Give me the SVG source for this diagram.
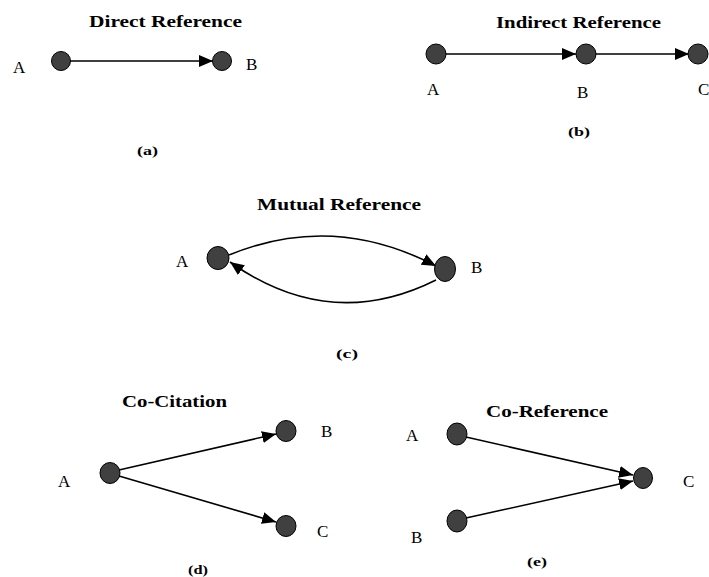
<svg xmlns="http://www.w3.org/2000/svg" width="709" height="577" viewBox="0 0 709 577">
  <style>
    .title { font-family: "Liberation Serif", "Times New Roman", serif; font-weight: bold; font-size: 17px; fill: #000; }
    .lbl { font-family: "Liberation Serif", "Times New Roman", serif; font-size: 17px; fill: #000; }
    .cap { font-family: "Liberation Serif", "Times New Roman", serif; font-size: 13px; font-weight: bold; fill: #000; }
    .node { fill: #404040; stroke: #000; stroke-width: 1; }
    .edge { fill: none; stroke: #000; stroke-width: 1.6; marker-end: url(#arrow); }
  </style>
  <defs>
    <marker id="arrow" markerUnits="userSpaceOnUse" markerWidth="15" markerHeight="13" refX="14" refY="6" orient="auto">
      <path d="M0,0 L14,6 L0,12 z" fill="#000"/>
    </marker>
  </defs>
  <rect width="709" height="577" fill="#fff"/>

  <!-- (a) direct reference -->
  <text class="title" x="89" y="27" textLength="153" lengthAdjust="spacingAndGlyphs">Direct Reference</text>
  <text class="lbl" x="13" y="73">A</text>
  <text class="lbl" x="246" y="70">B</text>
  <text class="cap" x="137" y="155" textLength="21" lengthAdjust="spacingAndGlyphs">(a)</text>

  <!-- (b) indirect reference -->
  <text class="title" x="496" y="28" textLength="165" lengthAdjust="spacingAndGlyphs">Indirect Reference</text>
  <text class="lbl" x="427" y="95">A</text>
  <text class="lbl" x="577" y="98">B</text>
  <text class="lbl" x="698" y="95">C</text>
  <text class="cap" x="568" y="136" textLength="22" lengthAdjust="spacingAndGlyphs">(b)</text>

  <!-- (c) mutual reference -->
  <text class="title" x="257" y="210" textLength="164" lengthAdjust="spacingAndGlyphs">Mutual Reference</text>
  <text class="lbl" x="176" y="267">A</text>
  <text class="lbl" x="471" y="273">B</text>
  <text class="cap" x="336" y="358" textLength="22" lengthAdjust="spacingAndGlyphs">(c)</text>

  <!-- (d) co-citation -->
  <text class="title" x="122" y="407" textLength="105" lengthAdjust="spacingAndGlyphs">Co-Citation</text>
  <text class="lbl" x="58" y="487">A</text>
  <text class="lbl" x="321" y="437">B</text>
  <text class="lbl" x="317" y="537">C</text>
  <text class="cap" x="188" y="574" textLength="20" lengthAdjust="spacingAndGlyphs">(d)</text>

  <!-- (e) co-reference -->
  <text class="title" x="486" y="417" textLength="122" lengthAdjust="spacingAndGlyphs">Co-Reference</text>
  <text class="lbl" x="406" y="441">A</text>
  <text class="lbl" x="411" y="543">B</text>
  <text class="lbl" x="683" y="487">C</text>
  <text class="cap" x="527" y="566" textLength="20" lengthAdjust="spacingAndGlyphs">(e)</text>

  <g id="connectors">
    <line class="edge" x1="70" y1="61" x2="213" y2="61"/>
    <line class="edge" x1="445" y1="54" x2="576" y2="54"/>
    <line class="edge" x1="595" y1="54" x2="689" y2="54"/>
    <path class="edge" d="M229,255 Q333,212 436,266"/>
    <path class="edge" d="M436,280 Q330,333 230,262"/>
    <line class="edge" x1="119" y1="470" x2="276" y2="434"/>
    <line class="edge" x1="119" y1="476" x2="276" y2="522"/>
    <line class="edge" x1="466" y1="437" x2="633" y2="475"/>
    <line class="edge" x1="466" y1="518" x2="633" y2="481"/>
  </g>

  <g id="a-A"><circle class="node" cx="61" cy="61" r="9.5"/></g>
  <g id="a-B"><circle class="node" cx="222" cy="61" r="9.5"/></g>
  <g id="b-A"><circle class="node" cx="436" cy="54" r="10"/></g>
  <g id="b-B"><circle class="node" cx="586" cy="54" r="10"/></g>
  <g id="b-C"><circle class="node" cx="698" cy="54" r="10"/></g>
  <g id="c-A"><ellipse class="node" cx="218" cy="258" rx="11" ry="11.5"/></g>
  <g id="c-B"><ellipse class="node" cx="445" cy="269" rx="10.5" ry="12.5"/></g>
  <g id="d-A"><ellipse class="node" cx="110" cy="473" rx="10" ry="10.5"/></g>
  <g id="d-B"><ellipse class="node" cx="286" cy="431" rx="10" ry="10.5"/></g>
  <g id="d-C"><ellipse class="node" cx="286" cy="526" rx="10" ry="10.5"/></g>
  <g id="e-A"><ellipse class="node" cx="457" cy="434" rx="10" ry="11"/></g>
  <g id="e-B"><ellipse class="node" cx="457" cy="521" rx="10" ry="11"/></g>
  <g id="e-C"><ellipse class="node" cx="643" cy="478" rx="9.5" ry="10.5"/></g>
</svg>
